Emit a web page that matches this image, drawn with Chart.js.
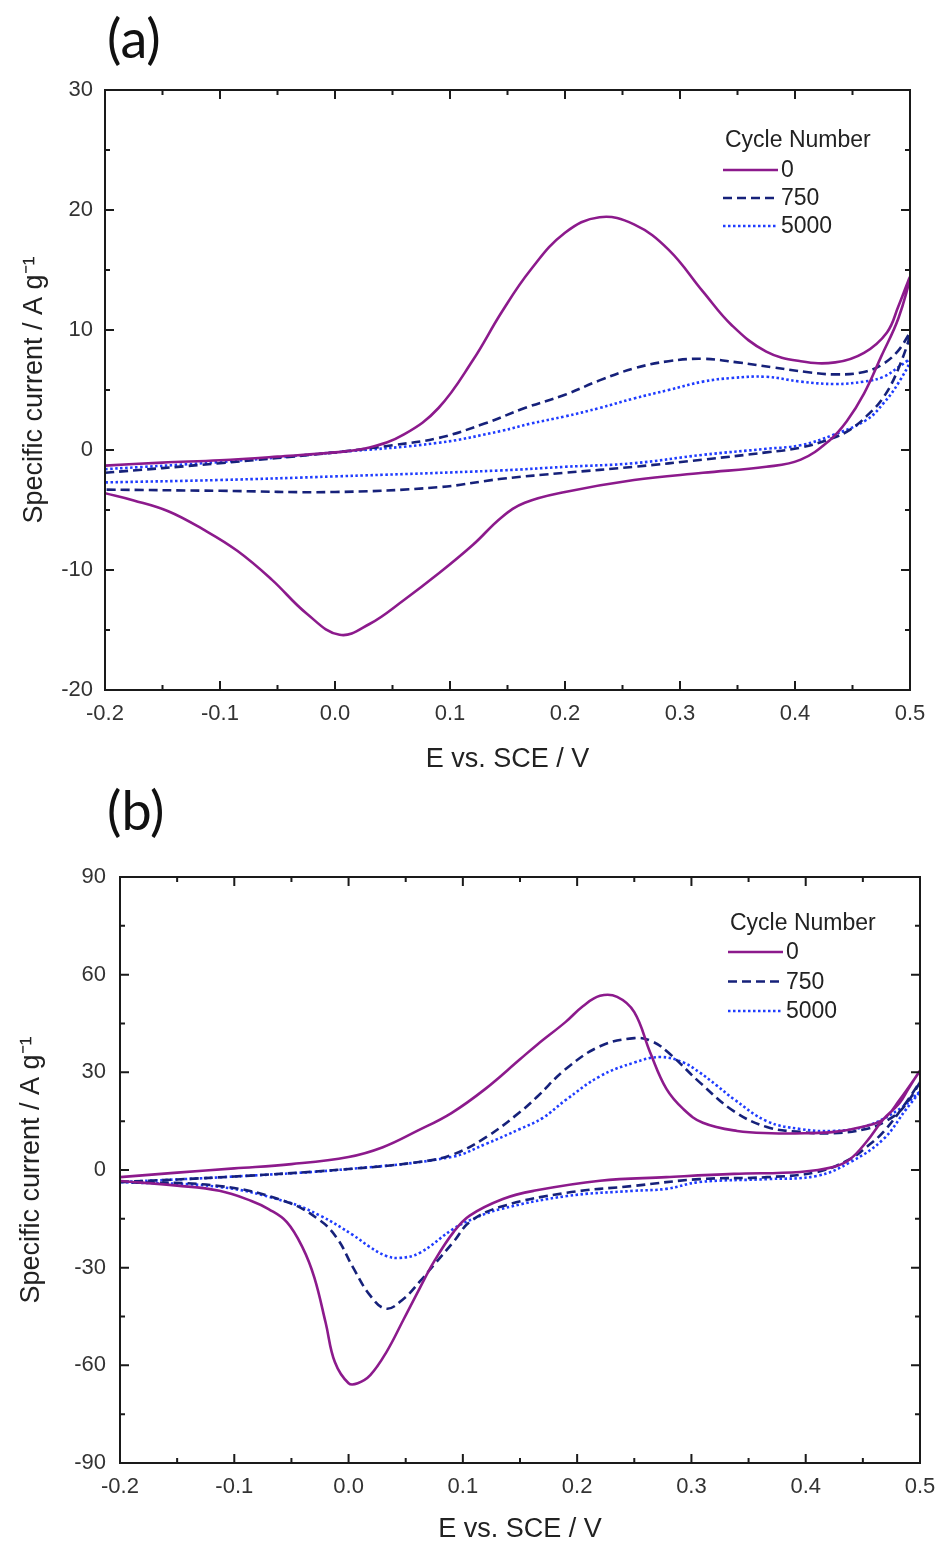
<!DOCTYPE html>
<html>
<head>
<meta charset="utf-8">
<script src="https://cdn.jsdelivr.net/npm/chart.js@4.4.1/dist/chart.umd.min.js"></script>
<style>
    html, body { margin: 0; padding: 0; background: #fff; }
    body { width: 941px; height: 1548px; position: relative; overflow: hidden; }
    canvas { position: absolute; left: 0; }
    .tag { position: absolute; left: 107px; z-index: 2; font-family: Lato, "Open Sans", sans-serif; font-size: 54px; line-height: 1; color: #111; }
</style>
</head>
<body>
<canvas id="chartA" width="941" height="790" style="top:0"></canvas>
<canvas id="chartB" width="941" height="758" style="top:790px"></canvas>
<div class="tag" style="top:11px">(a)</div>
<div class="tag" style="top:783px">(b)</div>
<script>
// tick values
const potTicks = [-0.2, -0.1, 0.0, 0.1, 0.2, 0.3, 0.4, 0.5];
const curTicksA = [-20, -10, 0, 10, 20, 30];
const curTicksB = [-90, -60, -30, 0, 30, 60, 90];
const cycleLabels = ['0', '750', '5000'];

// panel (a): forward scan then reverse scan, potential in V, current in A/g
const aPot0 = [-0.2, -0.15, -0.1, -0.05, 0, 0.03, 0.06, 0.09, 0.12, 0.145, 0.17, 0.2, 0.23, 0.26, 0.29, 0.32, 0.345, 0.375, 0.405, 0.435, 0.46, 0.48, 0.49, 0.5,
    0.49, 0.475, 0.46, 0.445, 0.43, 0.405, 0.375, 0.32, 0.26, 0.2, 0.165, 0.145, 0.12, 0.09, 0.06, 0.03, 0.004, -0.025, -0.055, -0.085, -0.115, -0.145, -0.175, -0.2];
const aCur0 = [-1.3, -1.05, -0.85, -0.55, -0.2, 0.2, 1.3, 3.5, 7.5, 11.5, 15.0, 18.1, 19.4, 18.8, 16.7, 13.2, 10.4, 8.2, 7.4, 7.3, 8.1, 9.8, 12.0, 14.4,
    11.0, 7.8, 4.7, 2.4, 0.8, -0.8, -1.4, -1.9, -2.5, -3.5, -4.4, -5.6, -7.9, -10.3, -12.5, -14.5, -15.4, -13.6, -10.8, -8.4, -6.6, -5.1, -4.2, -3.6];

const aPot750 = [-0.2, -0.1, 0, 0.05, 0.09, 0.13, 0.165, 0.2, 0.23, 0.26, 0.29, 0.32, 0.35, 0.38, 0.41, 0.435, 0.46, 0.477, 0.49, 0.5,
    0.49, 0.477, 0.462, 0.448, 0.433, 0.405, 0.375, 0.32, 0.26, 0.2, 0.145, 0.09, 0.0, -0.1, -0.2];
const aCur750 = [-1.9, -1.1, -0.2, 0.4, 1.0, 2.2, 3.5, 4.6, 5.8, 6.8, 7.4, 7.6, 7.3, 6.9, 6.5, 6.3, 6.5, 7.2, 8.3, 9.7,
    6.8, 4.4, 2.8, 1.7, 1.0, 0.2, -0.2, -0.8, -1.4, -1.9, -2.4, -3.1, -3.5, -3.4, -3.3];

const aPot5000 = [-0.2, -0.1, 0, 0.09, 0.145, 0.17, 0.2, 0.23, 0.26, 0.29, 0.32, 0.345, 0.375, 0.405, 0.435, 0.46, 0.477, 0.49, 0.5,
    0.49, 0.477, 0.462, 0.433, 0.405, 0.375, 0.32, 0.26, 0.2, 0.145, 0.0, -0.1, -0.2];
const aCur5000 = [-1.6, -1.0, -0.2, 0.6, 1.6, 2.2, 2.8, 3.5, 4.3, 5.0, 5.7, 6.0, 6.1, 5.7, 5.5, 5.7, 6.1, 6.9, 7.5,
    5.6, 3.9, 2.5, 1.25, 0.4, 0.1, -0.4, -1.1, -1.4, -1.7, -2.2, -2.5, -2.7];

// panel (b)
const bPot0 = [-0.2, -0.15, -0.1, -0.05, 0, 0.03, 0.06, 0.09, 0.12, 0.15, 0.165, 0.19, 0.205, 0.22, 0.235, 0.25, 0.264, 0.278, 0.293, 0.31, 0.34, 0.37, 0.4, 0.425, 0.45, 0.468, 0.482, 0.5,
    0.49, 0.482, 0.468, 0.453, 0.439, 0.424, 0.395, 0.337, 0.278, 0.22, 0.162, 0.135, 0.106, 0.092, 0.075, 0.062, 0.048, 0.033, 0.019, 0.008, 0.0, -0.012, -0.02, -0.03, -0.04, -0.054, -0.07, -0.085, -0.113, -0.15, -0.2];
const bCur0 = [-2.2, -0.8, 0.5, 1.8, 4.0, 7.0, 12, 17.5, 25, 34, 38.5, 45.5, 50.3, 53.5, 53.2, 48.5, 36, 25, 18.7, 14.5, 12, 11.3, 11.3, 11.7, 13.3, 15.6, 21.5, 30.4,
    25, 20.5, 15.6, 8.6, 3.4, 0.9, -0.6, -1.2, -2.2, -3.3, -6.4, -8.9, -14, -19, -28, -36.5, -46, -56, -63, -65.5, -65.5, -59, -47, -33, -24, -16, -12, -9.5, -6.4, -4.8, -3.4];

const bPot750 = [-0.2, -0.1, 0, 0.06, 0.09, 0.12, 0.15, 0.165, 0.19, 0.22, 0.25, 0.265, 0.28, 0.307, 0.337, 0.366, 0.395, 0.424, 0.453, 0.47, 0.485, 0.5,
    0.488, 0.468, 0.453, 0.439, 0.41, 0.366, 0.307, 0.249, 0.191, 0.133, 0.106, 0.092, 0.075, 0.062, 0.048, 0.033, 0.019, 0.004, -0.01, -0.025, -0.054, -0.113, -0.2];
const bCur750 = [-3.7, -2.0, 0.3, 2.4, 4.6, 10.0, 17.8, 22.5, 31, 38, 40.5, 39.6, 36, 27, 18.1, 13.2, 11.7, 11.3, 12.6, 15, 19, 27,
    20.8, 11.7, 7, 3.4, -0.6, -2.2, -2.8, -4.9, -7, -11.3, -16, -22, -29, -34.4, -39.6, -42.6, -38.6, -30, -21, -15.5, -9.8, -4.9, -3.7];

const bPot5000 = [-0.2, -0.1, 0, 0.09, 0.12, 0.15, 0.17, 0.19, 0.22, 0.25, 0.273, 0.293, 0.307, 0.322, 0.337, 0.366, 0.395, 0.424, 0.453, 0.482, 0.5,
    0.488, 0.468, 0.439, 0.41, 0.366, 0.307, 0.278, 0.249, 0.191, 0.133, 0.109, 0.092, 0.062, 0.045, 0.033, 0.018, 0.004, -0.025, -0.054, -0.113, -0.2];
const bCur5000 = [-3.7, -2.0, 0.3, 4.0, 8.0, 12.6, 16, 21.5, 28.8, 33, 34.7, 33, 30, 26, 21.8, 15, 12.6, 12, 13.5, 18.7, 24,
    18.7, 9.5, 2.4, -1.8, -2.8, -3.7, -5.8, -6.4, -8, -12, -15, -18, -25.5, -27, -26.4, -23.5, -20, -14, -9.8, -5.2, -3.7];


const styles = [
    {borderColor: '#8c1a8c', borderDash: []},
    {borderColor: '#16217a', borderDash: [9, 5]},
    {borderColor: '#1f3cff', borderDash: [2.5, 2.5]}
];

function toPoints(pot, cur) {
    return pot.map((e, i) => ({x: e, y: cur[i]}));
}

function makeDatasets(loops) {
    return loops.map((l, i) => ({
        label: cycleLabels[i],
        data: toPoints(l[0], l[1]),
        showLine: true,
        fill: false,
        pointRadius: 0,
        borderWidth: 2.6,
        tension: 0.4,
        borderColor: styles[i].borderColor,
        borderDash: styles[i].borderDash
    }));
}

// frame on four sides, with inward major and minor ticks
const frameTicks = {
    id: 'frameTicks',
    afterDatasetsDraw(chart) {
        const {ctx, chartArea: a, scales: {x, y}} = chart;
        ctx.save();
        ctx.strokeStyle = '#1a1a1a';
        ctx.lineWidth = 2;
        ctx.strokeRect(a.left, a.top, a.right - a.left, a.bottom - a.top);
        const xv = x.ticks.map(t => t.value);
        const yv = y.ticks.map(t => t.value);
        const mids = v => v.slice(1).map((t, i) => (t + v[i]) / 2);
        ctx.beginPath();
        const vTick = (px, len) => {
            ctx.moveTo(px, a.bottom); ctx.lineTo(px, a.bottom - len);
            ctx.moveTo(px, a.top); ctx.lineTo(px, a.top + len);
        };
        const hTick = (py, len) => {
            ctx.moveTo(a.left, py); ctx.lineTo(a.left + len, py);
            ctx.moveTo(a.right, py); ctx.lineTo(a.right - len, py);
        };
        xv.forEach(v => vTick(x.getPixelForValue(v), 9));
        mids(xv).forEach(v => vTick(x.getPixelForValue(v), 5));
        yv.forEach(v => hTick(y.getPixelForValue(v), 9));
        mids(yv).forEach(v => hTick(y.getPixelForValue(v), 5));
        ctx.stroke();
        ctx.restore();
    }
};

// legend drawn inside the plot area
const cvLegend = {
    id: 'cvLegend',
    afterDraw(chart, args, opts) {
        const {ctx, chartArea: a} = chart;
        const left = a.right - opts.fromRight;
        ctx.save();
        ctx.fillStyle = '#222';
        ctx.font = '23px "Liberation Sans", Arial, sans-serif';
        ctx.textBaseline = 'middle';
        ctx.fillText('Cycle Number', left + 2, a.top + opts.titleY);
        chart.data.datasets.forEach((ds, i) => {
            const yy = a.top + opts.rowY + i * opts.rowStep;
            ctx.strokeStyle = ds.borderColor;
            ctx.lineWidth = 2.6;
            ctx.setLineDash(ds.borderDash);
            ctx.beginPath();
            ctx.moveTo(left, yy);
            ctx.lineTo(left + 55, yy);
            ctx.stroke();
            ctx.fillText(ds.label, left + 58, yy + 1);
        });
        ctx.restore();
    }
};

const tickFont = {family: '"Liberation Sans", Arial, sans-serif', size: 22};
const titleFont = {family: '"Liberation Sans", Arial, sans-serif', size: 27};

function createChart(el, loops, cfg) {
    return new Chart(el.getContext('2d'), {
        type: 'scatter',
        data: {datasets: makeDatasets(loops)},
        options: {
            responsive: false,
            animation: false,
            layout: {padding: {top: cfg.padTop, right: cfg.padRight, left: 0, bottom: 0}},
            plugins: {
                legend: {display: false},
                tooltip: {enabled: false},
                cvLegend: cfg.legend
            },
            scales: {
                x: {
                    type: 'linear',
                    min: -0.2,
                    max: 0.5,
                    grid: {display: false, drawTicks: false},
                    border: {display: false},
                    afterBuildTicks: s => { s.ticks = potTicks.map(v => ({value: v})); },
                    afterFit: s => { s.height = cfg.xHeight; s.paddingLeft = 0; s.paddingRight = 0; },
                    ticks: {
                        autoSkip: false,
                        maxRotation: 0,
                        padding: 11,
                        color: '#333',
                        font: tickFont,
                        callback: v => v.toFixed(1)
                    },
                    title: {
                        display: true,
                        text: 'E vs. SCE / V',
                        color: '#222',
                        font: titleFont,
                        padding: {top: 0, bottom: cfg.xTitlePad}
                    }
                },
                y: {
                    type: 'linear',
                    min: cfg.yTicks[0],
                    max: cfg.yTicks[cfg.yTicks.length - 1],
                    grid: {display: false, drawTicks: false},
                    border: {display: false},
                    afterBuildTicks: s => { s.ticks = cfg.yTicks.map(v => ({value: v})); },
                    afterFit: s => { s.width = cfg.yWidth; s.paddingTop = 0; s.paddingBottom = 0; },
                    ticks: {
                        autoSkip: false,
                        padding: cfg.yTickPad,
                        color: '#333',
                        font: tickFont,
                        callback: v => String(v)
                    },
                    title: {
                        display: true,
                        text: 'Specific current / A g\u207B\u00B9',
                        color: '#222',
                        font: titleFont,
                        padding: {top: cfg.yTitlePad, bottom: 0}
                    }
                }
            }
        },
        plugins: [frameTicks, cvLegend]
    });
}

createChart(document.getElementById('chartA'),
    [[aPot0, aCur0], [aPot750, aCur750], [aPot5000, aCur5000]],
    {
        padTop: 90, padRight: 31, xHeight: 100, yWidth: 105,
        xTitlePad: 14, yTitlePad: 18, yTickPad: 12,
        yTicks: curTicksA,
        legend: {fromRight: 187, titleY: 51, rowY: 80, rowStep: 28}
    });

createChart(document.getElementById('chartB'),
    [[bPot0, bCur0], [bPot750, bCur750], [bPot5000, bCur5000]],
    {
        padTop: 87, padRight: 21, xHeight: 85, yWidth: 120,
        xTitlePad: 2, yTitlePad: 15, yTickPad: 14,
        yTicks: curTicksB,
        legend: {fromRight: 192, titleY: 47, rowY: 75, rowStep: 29.5}
    });
</script>
</body>
</html>
